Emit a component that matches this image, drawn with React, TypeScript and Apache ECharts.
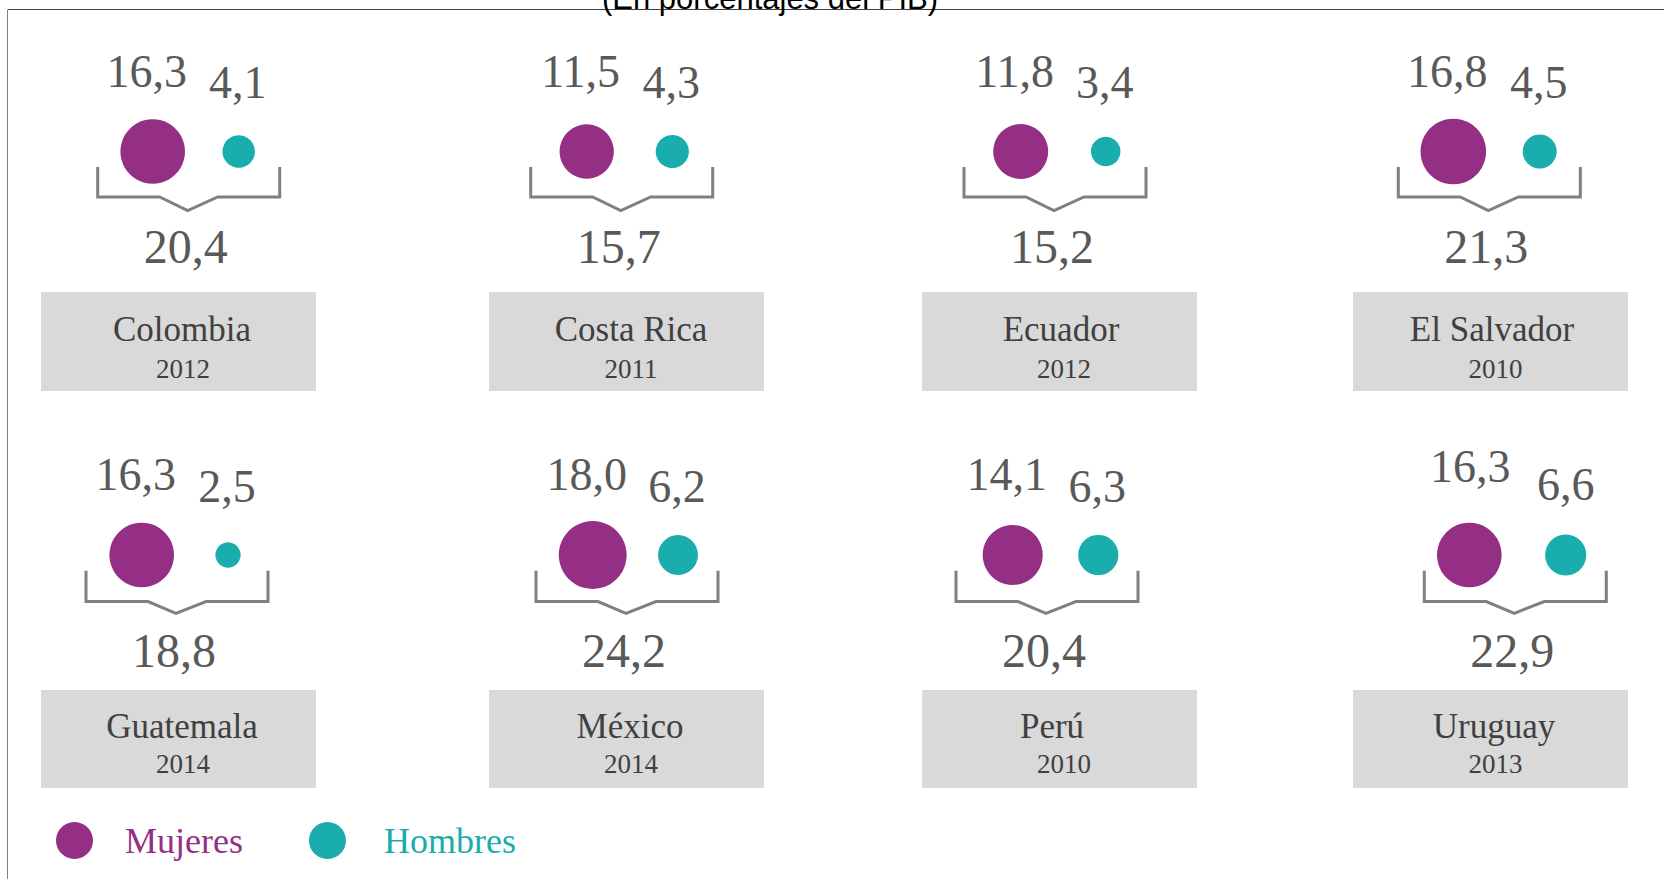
import React, { useEffect, useRef } from "react";
import * as echarts from "echarts";

// ---------- data ----------
const countries = ["Colombia", "Costa Rica", "Ecuador", "El Salvador", "Guatemala", "México", "Perú", "Uruguay"];
const years = ["2012", "2011", "2012", "2010", "2014", "2014", "2010", "2013"];
const mujeres = [16.3, 11.5, 11.8, 16.8, 16.3, 18.0, 14.1, 16.3];
const hombres = [4.1, 4.3, 3.4, 4.5, 2.5, 6.2, 6.3, 6.6];
const totales = [20.4, 15.7, 15.2, 21.3, 18.8, 24.2, 20.4, 22.9];
const seriesNames = ["Mujeres", "Hombres"];
const titleText = "(En porcentajes del PIB)";

// ---------- layout (positions only) ----------
const magX = [152.7, 586.7, 1020.7, 1453.3, 141.7, 592.7, 1012.7, 1469.3];
const teaX = [238.7, 672.3, 1105.7, 1539.7, 228, 678, 1098.3, 1565.7];
const rowY = [151.5, 555];
const brL = [97.7, 530.7, 964, 1398.3, 86, 536, 956, 1424.3];
const brW = 182;
const brTop = [167, 570.7];
const brBot = [197, 601.5];
const brNotch = [210.5, 613.3];
const totY = [246.8, 650.5];
const boxL = [41, 489, 922, 1353];
const boxW = 275;
const boxTop = [292, 690];
const boxH = [99, 98];
const nameX = [182, 631, 1061, 1492, 182, 630, 1052, 1494];
const nameY = [329, 726.5];
const yearX = [183, 631, 1064, 1495.5];
const yearY = [369.2, 763.6];

const MAG = "#952f86";
const TEAL = "#19adad";
const NUM = "#595959";
const TXT = "#404040";
const FONT = "'Liberation Serif','Times New Roman',serif";

const fmt = (v: number) => v.toFixed(1).replace(".", ",");

export default function App() {
  const ref = useRef<HTMLDivElement>(null);
  useEffect(() => {
    if (!ref.current) return;
    const chart = echarts.init(ref.current, undefined, { renderer: "svg" });
    const grids: any[] = [];
    const xAxes: any[] = [];
    const yAxes: any[] = [];
    const series: any[] = [];
    const graphic: any[] = [];

    graphic.push({
      type: "line",
      shape: { x1: 8, y1: 9.5, x2: 1664, y2: 9.5 },
      style: { stroke: "#404040", lineWidth: 1 },
    });
    graphic.push({
      type: "line",
      shape: { x1: 7.5, y1: 9.5, x2: 7.5, y2: 879 },
      style: { stroke: "#7f7f7f", lineWidth: 1 },
    });
    graphic.push({
      type: "text",
      x: 770,
      y: -1.7,
      style: {
        text: titleText,
        fill: "#000",
        font: "31px 'Liberation Sans', Arial, sans-serif",
        textAlign: "center",
        textVerticalAlign: "middle",
      },
    });

    countries.forEach((c, i) => {
      const row = i < 4 ? 0 : 1;
      const col = i % 4;
      const sp = teaX[i] - magX[i];
      grids.push({ left: magX[i] - sp / 2, width: 2 * sp, top: rowY[row] - 50, height: 100 });
      xAxes.push({ type: "category", gridIndex: i, data: seriesNames, show: false, boundaryGap: true });
      yAxes.push({ type: "value", gridIndex: i, min: -1, max: 1, show: false });
      const magOff = i === 7 ? [1, -89] : [-6, -80.5];
      const teaOff = i === 7 ? [0, -70.5] : [-1, -69];
      const lbl = (off: number[]) => ({
        show: true,
        position: "inside",
        offset: off,
        formatter: (p: any) => fmt(p.value[2]),
        color: NUM,
        fontFamily: FONT,
        fontSize: 46,
      });
      series.push({
        type: "scatter",
        name: "Mujeres",
        xAxisIndex: i,
        yAxisIndex: i,
        data: [[0, 0, mujeres[i]]],
        symbol: "circle",
        symbolSize: (v: number[]) => 16 * Math.sqrt(v[2]),
        itemStyle: { color: MAG, opacity: 1 },
        label: lbl(magOff),
        silent: true,
      });
      series.push({
        type: "scatter",
        name: "Hombres",
        xAxisIndex: i,
        yAxisIndex: i,
        data: [[1, 0, hombres[i]]],
        symbol: "circle",
        symbolSize: (v: number[]) => 16 * Math.sqrt(v[2]),
        itemStyle: { color: TEAL, opacity: 1 },
        label: lbl(teaOff),
        silent: true,
      });

      // bracket
      const L = brL[i];
      const R = L + brW;
      const N = L + 90;
      const t = brTop[row];
      const b = brBot[row];
      const n = brNotch[row];
      graphic.push({
        type: "polyline",
        shape: {
          points: [
            [L, t],
            [L, b],
            [N - 28, b],
            [N, n],
            [N + 30, b],
            [R, b],
            [R, t],
          ],
        },
        style: { stroke: "#808080", lineWidth: 3, fill: null, lineJoin: "miter" },
      });
      graphic.push({
        type: "text",
        x: N - 2,
        y: totY[row],
        style: {
          text: fmt(totales[i]),
          fill: NUM,
          font: `48px ${FONT}`,
          textAlign: "center",
          textVerticalAlign: "middle",
        },
      });
      // name box
      graphic.push({
        type: "rect",
        shape: { x: boxL[col], y: boxTop[row], width: boxW, height: boxH[row] },
        style: { fill: "#d9d9d9" },
      });
      graphic.push({
        type: "text",
        x: nameX[i],
        y: nameY[row],
        style: {
          text: c,
          fill: TXT,
          font: `35px ${FONT}`,
          textAlign: "center",
          textVerticalAlign: "middle",
        },
      });
      graphic.push({
        type: "text",
        x: yearX[col],
        y: yearY[row],
        style: {
          text: years[i],
          fill: TXT,
          font: `27px ${FONT}`,
          textAlign: "center",
          textVerticalAlign: "middle",
        },
      });
    });

    chart.setOption({
      animation: false,
      backgroundColor: "#ffffff",
      grid: grids,
      xAxis: xAxes,
      yAxis: yAxes,
      series,
      graphic,
      legend: {
        left: 56,
        top: 822,
        padding: 0,
        itemWidth: 37,
        itemHeight: 37,
        itemGap: 66,
        icon: "circle",
        selectedMode: false,
        data: [
          { name: "Mujeres", textStyle: { color: MAG, padding: [10, 0, 0, 27] } },
          { name: "Hombres", textStyle: { color: TEAL, padding: [10, 0, 0, 33] } },
        ],
        textStyle: { fontFamily: FONT, fontSize: 36, padding: [10, 0, 0, 27] },
      },
    });
    return () => chart.dispose();
  }, []);
  return (
    <div
      ref={ref}
      style={{ position: "fixed", left: 0, top: 0, width: "1664px", height: "879px", background: "#fff" }}
    />
  );
}
